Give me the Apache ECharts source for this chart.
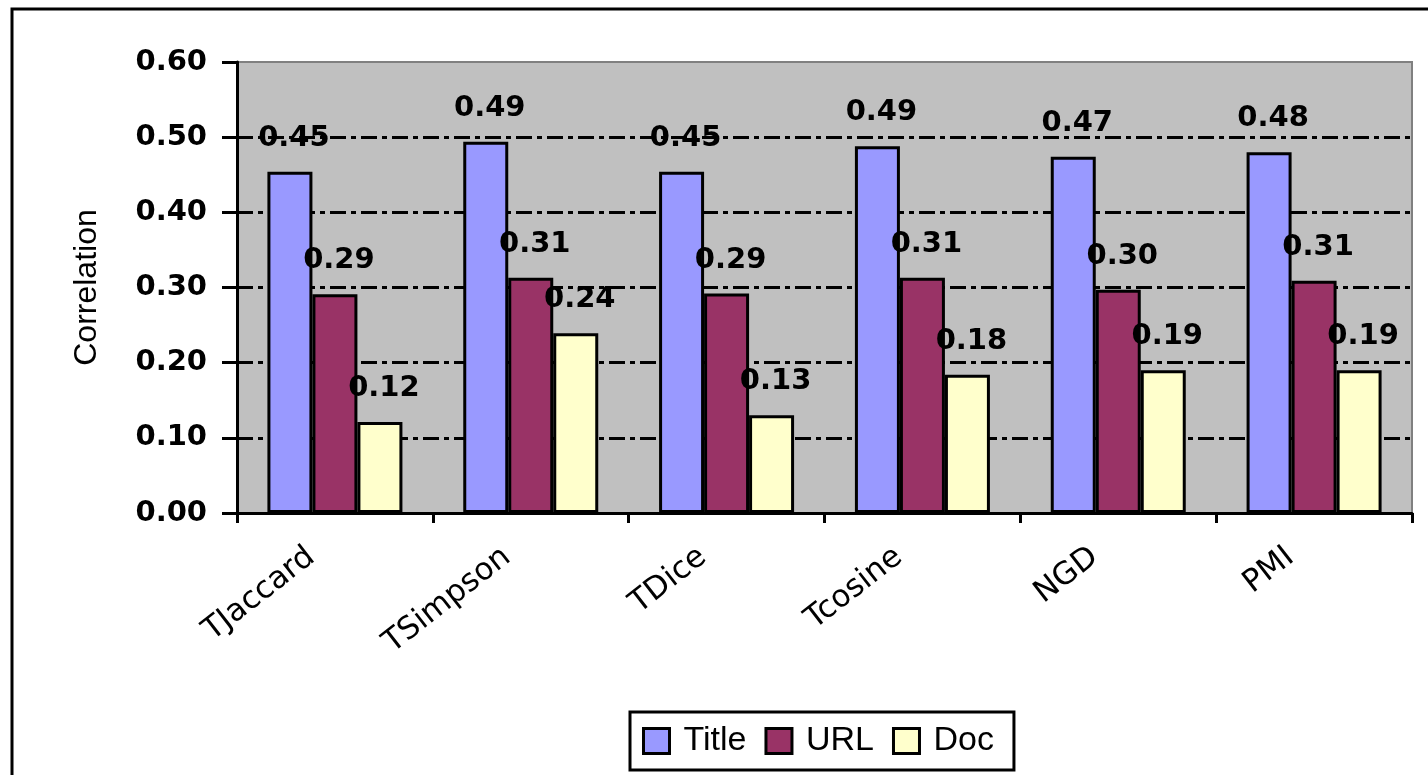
<!DOCTYPE html>
<html>
<head>
<meta charset="utf-8">
<script src="https://cdn.jsdelivr.net/npm/echarts@6/dist/echarts.min.js"></script>
<style>
  html, body { margin: 0; padding: 0; background: #fff; }
  #chart { width: 1428px; height: 775px; }
</style>
</head>
<body>
<div id="chart"></div>
<script>
// categories and values
var categories = ['TJaccard', 'TSimpson', 'TDice', 'Tcosine', 'NGD', 'PMI'];
var titleValues = [0.454, 0.494, 0.454, 0.488, 0.474, 0.480];
var urlValues   = [0.291, 0.313, 0.292, 0.313, 0.297, 0.309];
var docValues   = [0.121, 0.239, 0.130, 0.184, 0.190, 0.190];
var seriesNames = ['Title', 'URL', 'Doc'];

var chart = echarts.init(document.getElementById('chart'));

function barSeries(name, data, color) {
    return {
        name: name,
        type: 'bar',
        data: data,
        barWidth: 45,
        barGap: '0%',
        itemStyle: {
            color: color,
            borderColor: '#000',
            borderWidth: 3
        },
        label: {
            show: true,
            position: 'top',
            distance: 19,
            offset: [4, 0],
            color: '#000',
            fontFamily: 'DejaVu Sans',
            fontWeight: 'bold',
            fontSize: 29,
            formatter: function (p) { return p.value.toFixed(2); }
        }
    };
}

var option = {
    animation: false,
    backgroundColor: '#fff',
    textStyle: { fontFamily: 'Liberation Sans' },
    graphic: [{
        type: 'rect',
        shape: { x: 12, y: 9, width: 1440, height: 800 },
        style: { fill: 'none', stroke: '#000', lineWidth: 3 },
        z: 100
    }],
    grid: {
        left: 237,
        right: 16,
        top: 62,
        bottom: 262,
        show: true,
        backgroundColor: '#C0C0C0',
        borderColor: '#808080',
        borderWidth: 2
    },
    legend: {
        data: seriesNames,
        icon: 'rect',
        left: 630,
        top: 712,
        orient: 'horizontal',
        padding: [12, 20, 12, 12],
        itemWidth: 26,
        itemHeight: 25,
        itemGap: 18,
        borderColor: '#000',
        borderWidth: 3,
        backgroundColor: '#fff',
        itemStyle: { borderColor: '#000', borderWidth: 3 },
        textStyle: {
            fontFamily: 'Liberation Sans',
            fontSize: 34,
            color: '#000',
            padding: [0, 0, 0, 9]
        }
    },
    xAxis: {
        type: 'category',
        data: categories,
        axisLine: { lineStyle: { color: '#000', width: 3 } },
        axisTick: { show: true, length: 10, lineStyle: { color: '#000', width: 3 } },
        axisLabel: {
            rotate: 38,
            margin: 22,
            padding: [0, 30, 0, 0],
            color: '#000',
            fontFamily: 'DejaVu Sans',
            fontSize: 31
        },
        z: 10
    },
    yAxis: {
        type: 'value',
        min: 0,
        max: 0.6,
        interval: 0.1,
        name: 'Correlation',
        nameLocation: 'middle',
        nameGap: 134,
        nameTextStyle: {
            fontFamily: 'Liberation Sans',
            fontSize: 32,
            color: '#000'
        },
        axisLine: { show: true, lineStyle: { color: '#000', width: 3 } },
        axisTick: { show: true, length: 15, lineStyle: { color: '#000', width: 3 } },
        axisLabel: {
            margin: 30,
            color: '#000',
            fontFamily: 'DejaVu Sans',
            fontWeight: 'bold',
            fontSize: 29,
            formatter: function (v) { return v.toFixed(2); }
        },
        splitLine: {
            show: true,
            lineStyle: {
                color: ['#000', '#000', '#000', '#000', '#000', '#000', 'rgba(0,0,0,0)'],
                width: 3,
                type: [16, 5, 5, 5]
            }
        }
    },
    series: [
        barSeries(seriesNames[0], titleValues, '#9999FF'),
        barSeries(seriesNames[1], urlValues, '#993366'),
        barSeries(seriesNames[2], docValues, '#FFFFCC')
    ]
};

chart.setOption(option);
</script>
</body>
</html>
